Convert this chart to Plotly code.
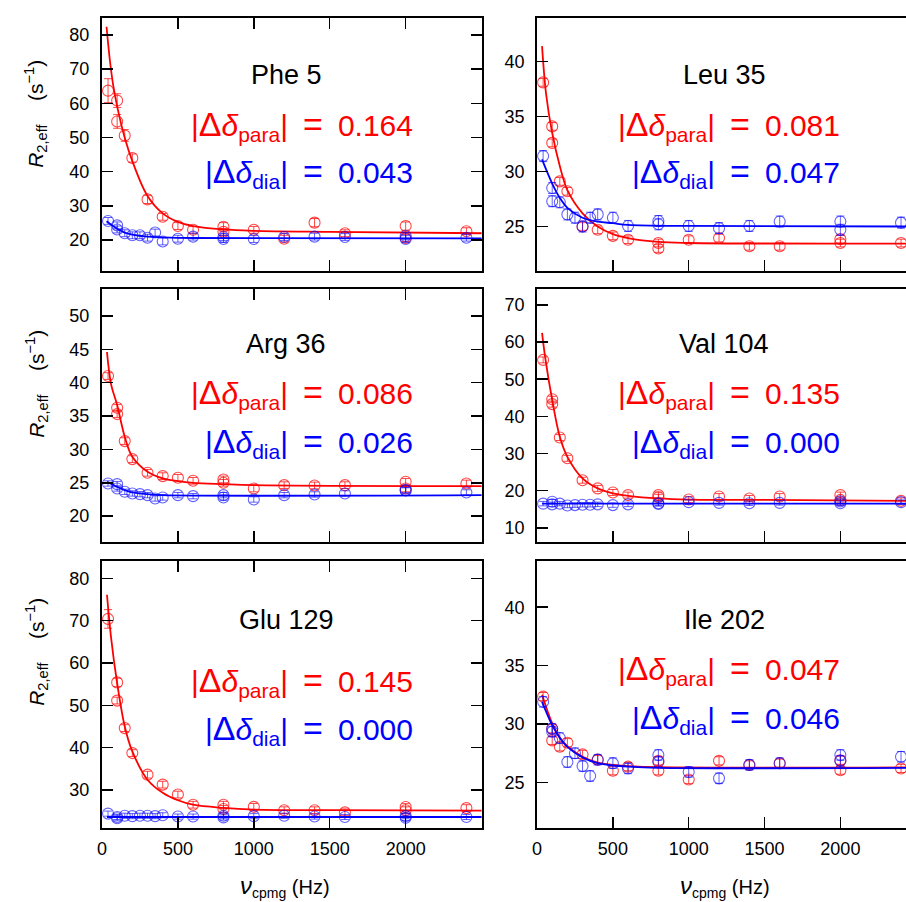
import plotly.graph_objects as go

# ---------------- data ----------------
X_RED = [40, 100, 100, 150, 200, 300, 400, 500, 600, 800, 800, 1000, 1200, 1400, 1600, 2000, 2000, 2400]
X_BLUE = [40, 100, 100, 150, 200, 250, 300, 350, 400, 500, 600, 800, 800, 1000, 1200, 1400, 1600, 2000, 2000, 2400]

residues = ["Phe 5", "Leu 35", "Arg 36", "Val 104", "Glu 129", "Ile 202"]
dd_para = ["0.164", "0.081", "0.086", "0.135", "0.145", "0.047"]
dd_dia = ["0.043", "0.047", "0.026", "0.000", "0.000", "0.046"]

phe5_red = [63.7, 60.8, 54.7, 50.6, 44.0, 31.9, 26.8, 24.1, 23.0, 23.9, 22.4, 23.0, 20.4, 25.1, 22.0, 24.1, 20.6, 22.6]
phe5_red_err = [3.5, 2.0, 2.0, 1.7, 1.2, 1.2, 1.0, 1.0, 1.0, 1.2, 1.0, 1.0, 1.0, 1.2, 1.0, 1.2, 1.0, 1.0]
phe5_blue = [25.6, 24.3, 23.1, 22.0, 21.4, 21.4, 20.7, 22.2, 19.6, 20.4, 21.0, 20.9, 20.3, 20.3, 20.9, 21.0, 20.9, 21.2, 20.3, 20.7]
phe5_fit_red_x = [30, 55, 75, 100, 150, 200, 300, 400, 500, 600, 800, 1000, 1500, 2500]
phe5_fit_red_y = [82.4, 71.5, 65.0, 59.1, 49.9, 43.1, 32.9, 27.8, 25.3, 24.1, 23.1, 22.7, 22.4, 22.0]
phe5_fit_blue_x = [30, 100, 150, 200, 300, 400, 600, 1000, 2500]
phe5_fit_blue_y = [25.5, 23.3, 22.2, 21.6, 21.0, 20.8, 20.6, 20.55, 20.5]

leu35_red = [38.1, 34.1, 32.6, 29.1, 28.2, 25.0, 24.7, 24.15, 23.8, 23.5, 23.0, 23.8, 23.95, 23.2, 23.2, 23.85, 23.5, 23.5]
leu35_blue = [31.4, 28.5, 27.3, 27.2, 26.1, 25.8, 25.0, 25.8, 26.1, 25.8, 25.05, 25.5, 25.2, 25.05, 24.85, 25.05, 25.45, 25.45, 24.7, 25.35]
leu35_fit_red_x = [33, 60, 100, 150, 200, 300, 400, 500, 600, 800, 1000, 2500]
leu35_fit_red_y = [41.4, 37.0, 33.5, 30.5, 28.3, 26.2, 25.0, 24.3, 23.95, 23.6, 23.5, 23.45]
leu35_fit_blue_x = [33, 100, 150, 200, 300, 400, 500, 600, 1000, 2500]
leu35_fit_blue_y = [31.1, 28.9, 27.6, 26.7, 25.8, 25.45, 25.3, 25.15, 25.05, 25.0]

arg36_red = [41.0, 36.25, 35.3, 31.25, 28.55, 26.5, 26.0, 25.75, 25.3, 25.5, 25.0, 24.15, 24.65, 24.6, 24.65, 25.15, 24.15, 24.9]
arg36_blue = [24.9, 24.8, 24.15, 23.65, 23.4, 23.3, 23.15, 22.65, 22.8, 23.15, 23.0, 23.15, 22.8, 22.5, 23.15, 23.25, 23.4, 23.9, 23.85, 23.55]
arg36_fit_red_x = [33, 60, 100, 150, 200, 300, 400, 500, 600, 800, 1000, 2500]
arg36_fit_red_y = [44.6, 39.8, 36.65, 31.9, 28.9, 26.65, 25.65, 25.25, 25.0, 24.8, 24.65, 24.5]
arg36_fit_blue_x = [33, 100, 150, 200, 300, 400, 2500]
arg36_fit_blue_y = [25.15, 24.4, 23.9, 23.55, 23.3, 23.15, 23.15]

val104_red = [55.2, 44.6, 43.3, 34.3, 28.7, 22.8, 20.6, 19.5, 18.8, 18.8, 18.2, 17.6, 18.4, 17.9, 18.4, 18.8, 17.5, 17.25]
val104_blue = [16.5, 17.0, 16.3, 16.5, 16.0, 16.1, 16.2, 16.2, 16.3, 16.1, 16.3, 16.6, 16.4, 16.9, 16.7, 16.6, 16.7, 17.1, 16.6, 16.9]
val104_fit_red_x = [33, 55, 100, 150, 200, 300, 400, 500, 600, 800, 1000, 1500, 2500]
val104_fit_red_y = [62.5, 55.5, 44.4, 34.5, 29.1, 23.3, 20.6, 19.25, 18.6, 17.9, 17.6, 17.5, 17.2]
val104_fit_blue_x = [33, 2500]
val104_fit_blue_y = [16.5, 16.5]

glu129_red = [70.4, 55.4, 51.1, 44.6, 38.7, 33.6, 31.25, 28.9, 26.5, 26.5, 25.5, 26.0, 25.2, 25.2, 24.7, 25.95, 25.2, 25.7]
glu129_red_err = [2.2, 1.0, 0.8, 0.8, 0.8, 0.8, 0.8, 0.8, 0.8, 0.8, 0.8, 0.8, 0.8, 0.8, 0.8, 0.8, 0.8, 0.8]
glu129_blue = [24.4, 23.6, 23.3, 23.9, 23.8, 23.9, 23.9, 23.8, 24.0, 23.7, 23.7, 23.9, 23.5, 23.8, 23.9, 23.7, 23.6, 23.8, 23.4, 23.6]
glu129_fit_red_x = [33, 60, 100, 150, 200, 300, 400, 500, 600, 800, 1000, 1500, 2500]
glu129_fit_red_y = [76.1, 66.0, 55.2, 45.0, 39.1, 32.4, 29.3, 27.55, 26.5, 25.75, 25.35, 25.2, 25.1]
glu129_fit_blue_x = [33, 2500]
glu129_fit_blue_y = [23.6, 23.6]

ile202_red = [32.35, 29.6, 28.6, 28.05, 28.4, 27.4, 26.95, 26.0, 26.35, 26.85, 26.0, 25.25, 26.85, 26.5, 26.65, 26.05, 26.9, 26.2]
ile202_blue = [31.9, 29.35, 29.6, 28.8, 26.75, 27.5, 26.4, 25.55, 26.95, 26.65, 26.2, 27.35, 26.75, 25.9, 25.35, 26.5, 26.65, 27.35, 26.85, 27.2]
ile202_fit_red_x = [33, 100, 150, 200, 300, 400, 500, 600, 800, 2500]
ile202_fit_red_y = [32.5, 30.05, 28.85, 28.1, 27.2, 26.7, 26.5, 26.4, 26.3, 26.3]
ile202_fit_blue_x = [33, 100, 150, 200, 300, 400, 500, 600, 800, 2500]
ile202_fit_blue_y = [31.9, 29.9, 28.8, 28.05, 27.15, 26.65, 26.45, 26.35, 26.25, 26.25]

y_ranges = [[11.1, 85.1], [21.0, 44.0], [16.2, 54.05], [6.3, 74.3], [21.0, 84.2], [21.1, 44.0]]
y_ticks = [[20, 30, 40, 50, 60, 70, 80], [25, 30, 35, 40], [20, 25, 30, 35, 40, 45, 50],
           [10, 20, 30, 40, 50, 60, 70], [30, 40, 50, 60, 70, 80], [25, 30, 35, 40]]
x_ticks = [0, 500, 1000, 1500, 2000]

panels = [
    (phe5_red, phe5_red_err, phe5_blue, 1.0, phe5_fit_red_x, phe5_fit_red_y, phe5_fit_blue_x, phe5_fit_blue_y),
    (leu35_red, [0.35] * 18, leu35_blue, 0.5, leu35_fit_red_x, leu35_fit_red_y, leu35_fit_blue_x, leu35_fit_blue_y),
    (arg36_red, [0.5] * 18, arg36_blue, 0.4, arg36_fit_red_x, arg36_fit_red_y, arg36_fit_blue_x, arg36_fit_blue_y),
    (val104_red, [0.8] * 18, val104_blue, 0.6, val104_fit_red_x, val104_fit_red_y, val104_fit_blue_x, val104_fit_blue_y),
    (glu129_red, glu129_red_err, glu129_blue, 0.6, glu129_fit_red_x, glu129_fit_red_y, glu129_fit_blue_x, glu129_fit_blue_y),
    (ile202_red, [0.35] * 18, ile202_blue, 0.45, ile202_fit_red_x, ile202_fit_red_y, ile202_fit_blue_x, ile202_fit_blue_y),
]

# ---------------- layout geometry ----------------
W, H = 906, 902
FONT = "Liberation Sans, Arial, Helvetica, sans-serif"
RED = "#ff0000"
BLUE = "#0000ff"
RED_M = "rgba(255,0,0,0.72)"
BLUE_M = "rgba(0,0,255,0.62)"

col_px = [(97.5, 480.0), (535.0, 906.0)]
row_px = [(17.5, 270.5), (289.0, 541.5), (560.5, 828.0)]
x_max = [2505, (906 - 535) / 0.1525]

fig = go.Figure()
layout = dict(
    width=W, height=H, margin=dict(l=0, r=0, t=0, b=0),
    paper_bgcolor="white", plot_bgcolor="white", showlegend=False,
    font=dict(family=FONT, size=18, color="black"),
)
annotations = []


def delta_text(sub, val):
    return ("|<span style='font-size:34px'>Δ</span><i>δ</i><sub>" + sub + "</sub>|"
            "\u2002<span style='font-size:34px'>=</span>\u2002" + val)


for i, p in enumerate(panels):
    r, c = divmod(i, 2)
    red, red_err, blue, blue_err, frx, fry, fbx, fby = p
    suf = "" if i == 0 else str(i + 1)
    xref, yref = "x" + suf, "y" + suf

    fig.add_trace(go.Scatter(
        x=X_RED, y=red, mode="markers", xaxis=xref, yaxis=yref,
        marker=dict(symbol="circle-open", size=11, color=RED_M, line=dict(width=1.1, color=RED_M)),
        error_y=dict(type="data", array=red_err, color=RED_M, thickness=1, width=4),
        cliponaxis=True, hoverinfo="skip"))
    fig.add_trace(go.Scatter(
        x=frx, y=fry, mode="lines", xaxis=xref, yaxis=yref, line_shape="spline",
        line=dict(color=RED, width=1.8), hoverinfo="skip"))
    fig.add_trace(go.Scatter(
        x=X_BLUE, y=blue, mode="markers", xaxis=xref, yaxis=yref,
        marker=dict(symbol="circle-open", size=11, color=BLUE_M, line=dict(width=1.1, color=BLUE_M)),
        error_y=dict(type="data", array=[blue_err] * len(blue), color=BLUE_M, thickness=1, width=4),
        cliponaxis=True, hoverinfo="skip"))
    fig.add_trace(go.Scatter(
        x=fbx, y=fby, mode="lines", xaxis=xref, yaxis=yref, line_shape="spline",
        line=dict(color=BLUE, width=1.8), hoverinfo="skip"))

    x0, x1 = col_px[c]
    y0, y1 = row_px[r]
    layout["xaxis" + suf] = dict(
        domain=[x0 / W, x1 / W], range=[0, x_max[c]], anchor=yref,
        showline=True, linecolor="black", linewidth=2, mirror="ticks" if c == 0 else True,
        ticks="inside", ticklen=11, tickwidth=1.5, tickcolor="black",
        tickvals=x_ticks, showticklabels=(r == 2), showgrid=False, zeroline=False,
        ticklabelstandoff=3,
        tickfont=dict(size=18, family=FONT), fixedrange=True)
    layout["yaxis" + suf] = dict(
        domain=[1 - y1 / H, 1 - y0 / H], range=y_ranges[i], anchor=xref,
        showline=True, linecolor="black", linewidth=2, mirror=("ticks" if c == 0 else False),
        ticks="inside", ticklen=11, tickwidth=1.5, tickcolor="black",
        tickvals=y_ticks[i], showgrid=False, zeroline=False,
        ticklabelstandoff=7,
        tickfont=dict(size=18, family=FONT), fixedrange=True)

    title_x = (283 if c == 0 else 723) / W
    right_x = (412 if c == 0 else 842) / W
    ty = [74.5, 344, 620][r]
    tr = [124.5, 392.5, 680 if c == 0 else 668][r]
    tb = [172, 441, 728 if c == 0 else 717][r]
    annotations.append(dict(x=title_x, y=1 - ty / H, xref="paper", yref="paper",
                            text=residues[i], showarrow=False, xanchor="center", yanchor="middle",
                            font=dict(size=27, color="black", family=FONT)))
    annotations.append(dict(x=right_x, y=1 - (tr + 1) / H, xref="paper", yref="paper",
                            text=delta_text("para", dd_para[i]), showarrow=False,
                            xanchor="right", yanchor="middle",
                            font=dict(size=30, color=RED, family=FONT)))
    annotations.append(dict(x=right_x, y=1 - (tb + 1) / H, xref="paper", yref="paper",
                            text=delta_text("dia", dd_dia[i]), showarrow=False,
                            xanchor="right", yanchor="middle",
                            font=dict(size=30, color=BLUE, family=FONT)))

# y-axis titles (left column only)
for yc in (114, 384, 652):
    annotations.append(dict(x=31 / W, y=1 - yc / H, xref="paper", yref="paper",
                            text="<i>R</i><sub>2,eff</sub>\u00a0\u00a0\u00a0\u00a0(s<sup>−1</sup>)", textangle=-90,
                            showarrow=False, xanchor="center", yanchor="middle",
                            font=dict(size=21, color="black", family=FONT)))
# x-axis titles
for cx in (282, 724):
    annotations.append(dict(x=cx / W, y=1 - 886 / H, xref="paper", yref="paper",
                            text="<span style='font-size:24px'><i>ν</i></span><sub>cpmg</sub> (Hz)",
                            showarrow=False, xanchor="center", yanchor="middle",
                            font=dict(size=20, color="black", family=FONT)))

layout["annotations"] = annotations
fig.update_layout(**layout)

fig.write_html("out.html", config={"displayModeBar": False, "staticPlot": True},
               post_script="document.body.style.margin='0';document.body.style.overflow='hidden';")
